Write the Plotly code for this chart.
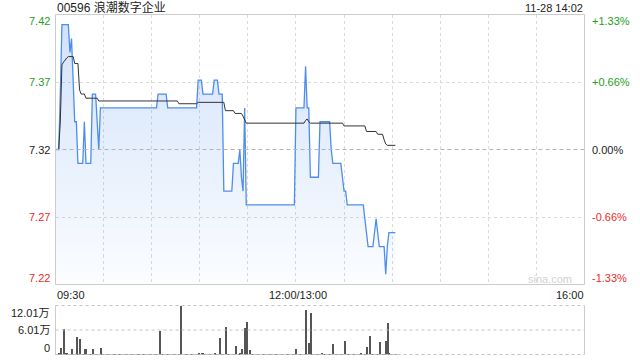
import plotly.graph_objects as go

# ---------------- data ----------------
title_text = "00596 浪潮数字企业"
time_text = "11-28 14:02"
prev_close = 7.32
range_pct = 0.0133
price_tick_labels = ["7.42", "7.37", "7.32", "7.27", "7.22"]
pct_tick_labels = ["+1.33%", "+0.66%", "0.00%", "-0.66%", "-1.33%"]
vol_tick_labels = ["12.01万", "6.01万", "0"]
vol_max = 12.01
x_labels = ["09:30", "12:00/13:00", "16:00"]
session_minutes = 330

# last price per minute (index 0 = 09:30, 150 = 12:00/13:00)
price = [
    7.32, 7.32, 7.32, 7.36, 7.41, 7.41, 7.41, 7.41, 7.41, 7.39,   # 0-9
    7.40, 7.37, 7.34, 7.34, 7.31, 7.31, 7.31, 7.31, 7.34, 7.31,   # 10-19
    7.31, 7.31, 7.31, 7.36, 7.36, 7.36, 7.34, 7.32, 7.35, 7.35,   # 20-29
    7.35, 7.35, 7.35, 7.35, 7.35, 7.35, 7.35, 7.35, 7.35, 7.35,   # 30-39
    7.35, 7.35, 7.35, 7.35, 7.35, 7.35, 7.35, 7.35, 7.35, 7.35,   # 40-49
    7.35, 7.35, 7.35, 7.35, 7.35, 7.35, 7.35, 7.35, 7.35, 7.35,   # 50-59
    7.35, 7.35, 7.35, 7.35, 7.36, 7.36, 7.36, 7.36, 7.36, 7.36,   # 60-69
    7.35, 7.35, 7.35, 7.35, 7.35, 7.35, 7.35, 7.35, 7.35, 7.35,   # 70-79
    7.35, 7.35, 7.35, 7.35, 7.35, 7.35, 7.35, 7.35, 7.35, 7.37,   # 80-89
    7.37, 7.37, 7.36, 7.36, 7.36, 7.36, 7.36, 7.36, 7.36, 7.37,   # 90-99
    7.37, 7.37, 7.36, 7.36, 7.36, 7.29, 7.29, 7.29, 7.29, 7.29,   # 100-109
    7.29, 7.31, 7.31, 7.31, 7.31, 7.32, 7.30, 7.29, 7.35, 7.28,   # 110-119
    7.28, 7.28, 7.28, 7.28, 7.28, 7.28, 7.28, 7.28, 7.28, 7.28,   # 120-129
    7.28, 7.28, 7.28, 7.28, 7.28, 7.28, 7.28, 7.28, 7.28, 7.28,   # 130-139
    7.28, 7.28, 7.28, 7.28, 7.28, 7.28, 7.28, 7.28, 7.28, 7.28,   # 140-149
    7.35, 7.35, 7.35, 7.35, 7.35, 7.35, 7.38, 7.35, 7.35, 7.30,   # 150-159
    7.30, 7.30, 7.30, 7.30, 7.30, 7.34, 7.34, 7.34, 7.34, 7.34,   # 160-169
    7.34, 7.34, 7.32, 7.31, 7.31, 7.31, 7.31, 7.31, 7.31, 7.30,   # 170-179
    7.29, 7.29, 7.28, 7.28, 7.28, 7.28, 7.28, 7.28, 7.28, 7.28,   # 180-189
    7.28, 7.28, 7.28, 7.27, 7.26, 7.25, 7.25, 7.25, 7.25, 7.26,   # 190-199
    7.27, 7.26, 7.25, 7.25, 7.25, 7.25, 7.23, 7.25, 7.26, 7.26,   # 200-209
    7.26, 7.26, 7.26,                                             # 210-212
]

# average price per minute
avg_price = [
    7.320, 7.320, 7.320, 7.340, 7.381, 7.383, 7.385, 7.386, 7.387, 7.387,   # 0-9
    7.387, 7.387, 7.382, 7.382, 7.382, 7.363, 7.360, 7.360, 7.360, 7.357,   # 10-19
    7.357, 7.357, 7.357, 7.357, 7.357, 7.357, 7.357, 7.355, 7.355, 7.355,   # 20-29
    7.355, 7.355, 7.355, 7.355, 7.355, 7.355, 7.355, 7.355, 7.355, 7.355,   # 30-39
    7.355, 7.355, 7.355, 7.355, 7.355, 7.355, 7.355, 7.355, 7.355, 7.355,   # 40-49
    7.355, 7.355, 7.355, 7.355, 7.355, 7.355, 7.355, 7.355, 7.355, 7.355,   # 50-59
    7.355, 7.355, 7.355, 7.355, 7.355, 7.355, 7.355, 7.355, 7.355, 7.355,   # 60-69
    7.355, 7.355, 7.355, 7.355, 7.355, 7.355, 7.355, 7.353, 7.353, 7.353,   # 70-79
    7.353, 7.353, 7.353, 7.353, 7.353, 7.353, 7.353, 7.353, 7.353, 7.354,   # 80-89
    7.354, 7.354, 7.354, 7.354, 7.354, 7.354, 7.354, 7.354, 7.354, 7.354,   # 90-99
    7.354, 7.354, 7.354, 7.354, 7.354, 7.354, 7.348, 7.348, 7.348, 7.348,   # 100-109
    7.348, 7.348, 7.346, 7.346, 7.346, 7.346, 7.346, 7.344, 7.341, 7.339,   # 110-119
    7.339, 7.339, 7.339, 7.339, 7.339, 7.339, 7.339, 7.339, 7.339, 7.339,   # 120-129
    7.339, 7.339, 7.339, 7.339, 7.339, 7.339, 7.339, 7.339, 7.339, 7.339,   # 130-139
    7.339, 7.339, 7.339, 7.339, 7.339, 7.339, 7.339, 7.339, 7.339, 7.339,   # 140-149
    7.339, 7.339, 7.339, 7.339, 7.339, 7.339, 7.341, 7.342, 7.340, 7.339,   # 150-159
    7.339, 7.339, 7.339, 7.339, 7.339, 7.339, 7.339, 7.339, 7.339, 7.339,   # 160-169
    7.339, 7.339, 7.339, 7.339, 7.339, 7.339, 7.339, 7.339, 7.339, 7.339,   # 170-179
    7.337, 7.337, 7.337, 7.337, 7.337, 7.337, 7.337, 7.337, 7.337, 7.337,   # 180-189
    7.337, 7.337, 7.337, 7.337, 7.333, 7.333, 7.333, 7.333, 7.333, 7.333,   # 190-199
    7.333, 7.331, 7.331, 7.331, 7.331, 7.327, 7.324, 7.323, 7.323, 7.323,   # 200-209
    7.323, 7.323, 7.323,                                                    # 210-212
]

# volume per minute (万 shares)
volume = [
    0.2, 0.2, 0.3, 1.7, 0.2, 6.4, 0.6, 0.5, 0.2, 0.2,     # 0-9
    1.5, 0.2, 0.2, 4.5, 0.2, 3.9, 0.2, 0.2, 1.5, 1.5,     # 10-19
    0.2, 0.2, 0.2, 1.5, 0.2, 0.2, 0.2, 0.2, 1.7, 0.2,     # 20-29
    0.2, 0.2, 0.2, 0.2, 0.2, 0.2, 0.2, 0.2, 0.2, 0.2,     # 30-39
    0.2, 0.2, 0.2, 0.2, 0.2, 0.2, 0.2, 0.2, 0.2, 0.2,     # 40-49
    0.2, 0.2, 0.2, 0.2, 0.2, 0.2, 0.2, 0.2, 0.2, 0.2,     # 50-59
    0.2, 0.2, 0.2, 0.2, 0.2, 5.8, 0.2, 0.2, 0.2, 0.2,     # 60-69
    0.2, 0.2, 0.2, 0.2, 0.2, 0.2, 0.2, 0.2, 12.01, 0.2,   # 70-79
    0.2, 0.2, 0.2, 0.2, 0.2, 0.2, 0.2, 0.2, 0.2, 0.5,     # 80-89
    0.2, 0.6, 0.5, 0.2, 0.2, 0.2, 0.2, 0.2, 0.2, 0.6,     # 90-99
    0.2, 0.2, 4.1, 0.2, 0.2, 0.2, 6.9, 0.2, 0.2, 0.2,     # 100-109
    0.2, 0.2, 2.3, 0.2, 0.2, 0.4, 1.5, 0.2, 6.6, 8.2,     # 110-119
    0.2, 1.2, 0.2, 0.2, 0.2, 0.2, 0.2, 0.2, 0.2, 0.2,     # 120-129
    0.2, 0.2, 0.2, 0.2, 0.2, 0.2, 0.2, 0.2, 0.2, 0.2,     # 130-139
    0.2, 0.2, 0.2, 0.2, 0.2, 0.2, 0.2, 0.2, 0.2, 0.2,     # 140-149
    1.5, 0.2, 0.2, 0.2, 0.2, 0.2, 11.1, 0.2, 2.9, 10.4,   # 150-159
    0.2, 0.2, 0.2, 0.2, 0.2, 0.2, 0.5, 0.2, 0.2, 0.2,     # 160-169
    0.2, 0.2, 0.2, 2.8, 0.2, 0.2, 0.2, 0.2, 0.2, 0.2,     # 170-179
    3.5, 0.2, 0.2, 0.2, 0.2, 0.2, 0.2, 0.2, 0.2, 0.2,     # 180-189
    0.3, 0.2, 0.2, 0.2, 2.0, 0.2, 4.7, 0.2, 0.2, 0.2,     # 190-199
    0.2, 0.2, 3.3, 0.2, 0.2, 0.2, 3.5, 7.9, 0.4, 0.2,     # 200-209
    0.2, 0.2, 0.2,                                        # 210-212
]

assert len(price) == len(avg_price) == len(volume) == 213
minutes = list(range(len(price)))

# ---------------- layout geometry (pixels) ----------------
W, H = 640, 360
PL, PR = 55.5, 584.5
MT, MB = 14.5, 284.5
VT, VB = 305.5, 354.5


def fx(x):
    return x / W


def fy(y):
    return 1 - y / H


ymin = prev_close * (1 - range_pct)
ymax = prev_close * (1 + range_pct)
q_hi = prev_close * (1 + range_pct / 2)
q_lo = prev_close * (1 - range_pct / 2)

FONT = "Liberation Sans, Arial, Noto Sans CJK SC, sans-serif"
GREEN = "#1e9e1e"
RED = "#ee2a2a"
DARK = "#222222"
BLUE = "#4d8ded"
GRID = "#dadada"

fig = go.Figure()

# baseline for the area fill
fig.add_trace(go.Scatter(x=[minutes[0], minutes[-1]], y=[ymin, ymin], mode="lines",
                         line=dict(width=0, color="rgba(0,0,0,0)"), showlegend=False,
                         hoverinfo="skip", xaxis="x", yaxis="y"))
fig.add_trace(go.Scatter(
    x=minutes, y=price, mode="lines", line=dict(color=BLUE, width=1.3),
    fill="tonexty",
    fillgradient=dict(type="vertical",
                      colorscale=[[0, "rgba(77,141,237,0.02)"], [1, "rgba(77,141,237,0.26)"]],
                      start=ymin, stop=ymax),
    showlegend=False, xaxis="x", yaxis="y"))
fig.add_trace(go.Scatter(x=minutes, y=avg_price, mode="lines",
                         line=dict(color="#333333", width=1), showlegend=False,
                         xaxis="x", yaxis="y"))

fig.add_trace(go.Bar(x=minutes, y=volume, width=0.62,
                     marker=dict(color="#555555", line=dict(width=0)),
                     showlegend=False, xaxis="x2", yaxis="y2"))

fig.update_layout(
    width=W, height=H, autosize=False,
    margin=dict(l=0, r=0, t=0, b=0, pad=0),
    paper_bgcolor="white", plot_bgcolor="white",
    font=dict(family=FONT, size=11, color=DARK),
    bargap=0,
    xaxis=dict(domain=[fx(PL), fx(PR)], range=[0, session_minutes], showticklabels=False,
               showgrid=True, gridcolor=GRID, griddash="dot", gridwidth=1,
               tick0=0, dtick=30, zeroline=False, showline=False, ticks="", fixedrange=True),
    yaxis=dict(domain=[fy(MB), fy(MT)], range=[ymin, ymax], showticklabels=False,
               showgrid=True, gridcolor=GRID, griddash="dot", gridwidth=1,
               tickvals=[q_lo, q_hi], zeroline=False, showline=False, ticks=""),
    xaxis2=dict(domain=[fx(PL), fx(PR)], range=[0, session_minutes], showticklabels=False,
                showgrid=False, zeroline=False, showline=False, ticks="", anchor="y2"),
    yaxis2=dict(domain=[fy(VB), fy(VT)], range=[0, vol_max], showticklabels=False,
                showgrid=False, zeroline=False, showline=False, ticks="", anchor="x2"),
)

shapes = []
# previous close dashed line
shapes.append(dict(type="line", xref="x", yref="y", x0=0, x1=session_minutes,
                   y0=prev_close, y1=prev_close, line=dict(color="#b4b4b4", width=1, dash="4px,3px")))
# main frame
shapes.append(dict(type="rect", xref="paper", yref="paper", x0=fx(PL), x1=fx(PR),
                   y0=fy(MB), y1=fy(MT), line=dict(color="#cccccc", width=1)))
# volume frame: solid sides, dotted top / middle / bottom
for xx in (PL, PR):
    shapes.append(dict(type="line", xref="paper", yref="paper", x0=fx(xx), x1=fx(xx),
                       y0=fy(VB), y1=fy(VT), line=dict(color="#cccccc", width=1)))
for yy in (VT, (VT + VB) / 2, VB):
    shapes.append(dict(type="line", xref="paper", yref="paper", x0=fx(PL), x1=fx(PR),
                       y0=fy(yy), y1=fy(yy), line=dict(color="#c4c4c4", width=1, dash="dot")))
fig.update_layout(shapes=shapes)

ann = []


def add_text(text, x, y, xanchor, color=DARK, size=11):
    ann.append(dict(text=text, x=fx(x), y=fy(y), xref="paper", yref="paper",
                    xanchor=xanchor, yanchor="middle", showarrow=False,
                    font=dict(family=FONT, size=size, color=color)))


price_label_y = [20.7, 82.3, 149.5, 217, 278.3]
label_colors = [GREEN, GREEN, DARK, RED, RED]
for txt, yy, cc in zip(price_tick_labels, price_label_y, label_colors):
    add_text(txt, 51.5, yy, "right", cc)
for txt, yy, cc in zip(pct_tick_labels, price_label_y, label_colors):
    add_text(txt, 589.5, yy, "left", cc)

add_text(title_text, 54.5, 7.5, "left", DARK, 12)
add_text(time_text, 585, 7.5, "right", DARK, 11)
add_text("sina.com", 574, 279, "right", "#d2d2d2", 11)

add_text(x_labels[0], 54.5, 295, "left")
add_text(x_labels[1], 298, 295, "center")
add_text(x_labels[2], 585.5, 295, "right")

for txt, yy in zip(vol_tick_labels, [312.7, 330, 348.3]):
    add_text(txt, 51.5, yy, "right")

fig.update_layout(annotations=ann)

fig.write_html("out.html")
